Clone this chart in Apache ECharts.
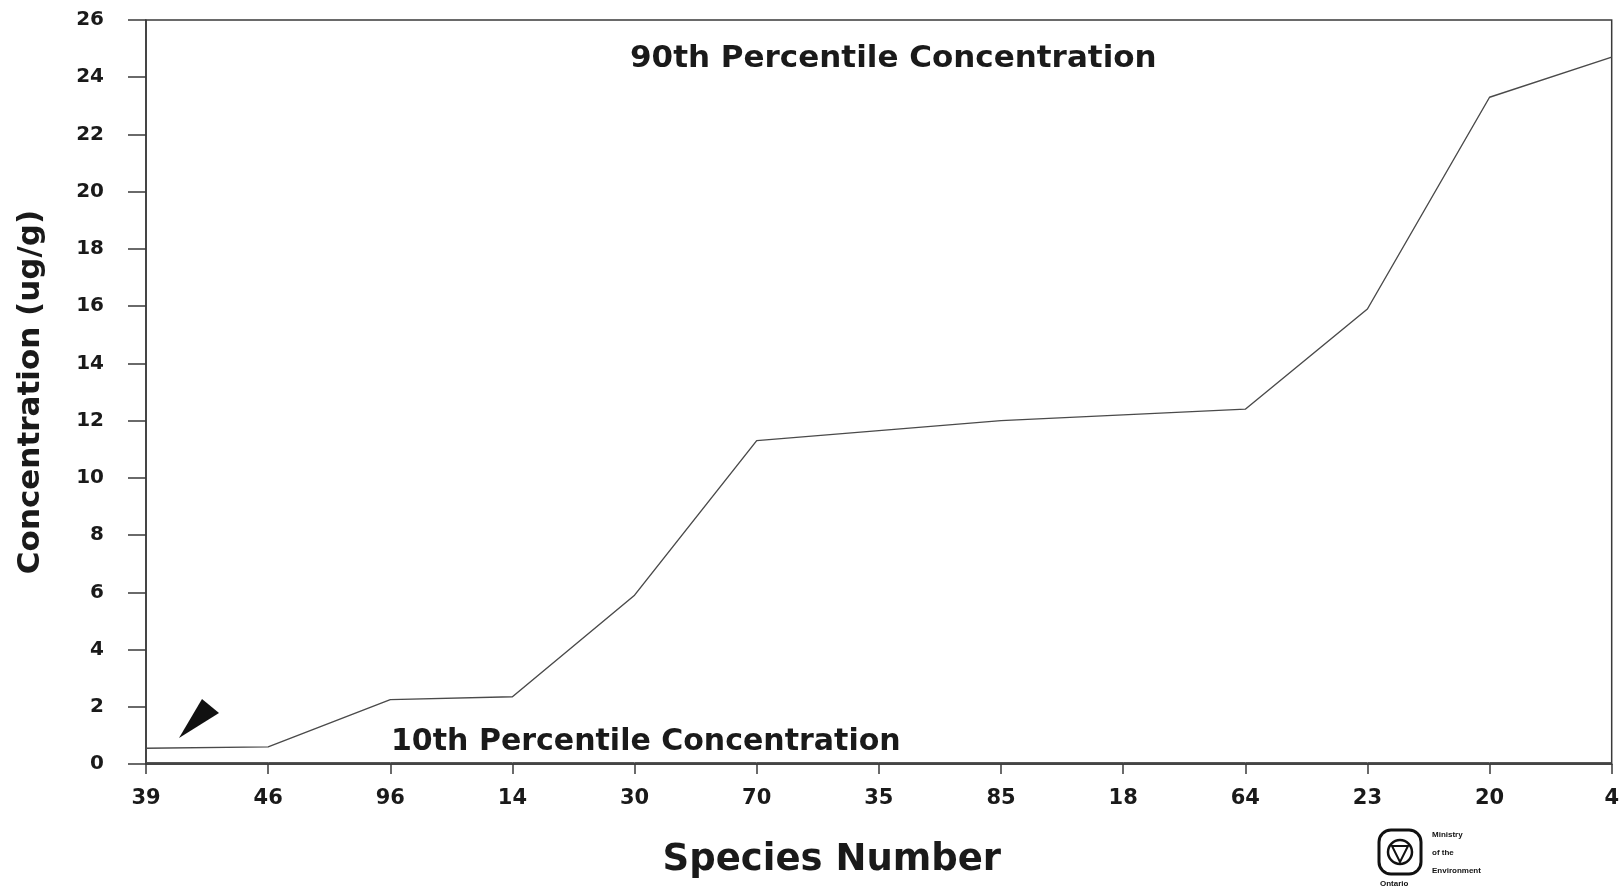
<!DOCTYPE html>
<html>
<head>
<meta charset="utf-8">
<script src="https://cdn.jsdelivr.net/npm/echarts@6/dist/echarts.min.js"></script>
<style>
html,body{margin:0;padding:0;background:#fff;}
#c{width:1622px;height:891px;}
</style>
</head>
<body>
<div id="c"></div>
<script>
const speciesNumbers = ['39','46','96','14','30','70','35','85','18','64','23','20','4'];
const p90Values = [0.55, 0.6, 2.25, 2.35, 5.9, 11.3, 11.65, 12.0, 12.2, 12.4, 15.9, 23.3, 24.7];
const p10Values = [0.05, 0.05, 0.05, 0.05, 0.05, 0.05, 0.05, 0.05, 0.05, 0.05, 0.05, 0.05, 0.05];
const yTicks = {min: 0, max: 26, interval: 2};

const FONT = '"DejaVu Sans", "Liberation Sans", Arial, sans-serif';
const SFONT = '"Liberation Sans", Arial, sans-serif';
const INK = '#1a1a1a';
const chart = echarts.init(document.getElementById('c'), null, {renderer: 'canvas'});

chart.setOption({
  backgroundColor: '#ffffff',
  animation: false,
  grid: {left: 146, right: 10, top: 20, bottom: 127, show: true, borderColor: '#3a3a3a', borderWidth: 1.5},
  xAxis: {
    type: 'category',
    data: speciesNumbers,
    boundaryGap: false,
    name: 'Species Number',
    nameLocation: 'middle',
    nameGap: 78,
    nameTextStyle: {fontFamily: FONT, fontWeight: 'bold', fontSize: 37, color: INK, padding: [0, 94, 0, 0]},
    axisLine: {lineStyle: {color: '#3a3a3a', width: 1.5}},
    axisTick: {show: true, length: 10, lineStyle: {color: '#3a3a3a', width: 1.5}, alignWithLabel: true},
    axisLabel: {fontFamily: FONT, fontWeight: 'bold', fontSize: 21, color: INK, margin: 24},
    splitLine: {show: false}
  },
  yAxis: {
    type: 'value',
    min: yTicks.min, max: yTicks.max, interval: yTicks.interval,
    name: 'Concentration (ug/g)',
    nameLocation: 'middle',
    nameGap: 100,
    nameRotate: 90,
    nameTextStyle: {fontFamily: FONT, fontWeight: 'bold', fontSize: 31, color: INK},
    axisLine: {show: true, lineStyle: {color: '#3a3a3a', width: 1.5}},
    axisTick: {show: true, length: 18, lineStyle: {color: '#3a3a3a', width: 1.5}},
    axisLabel: {fontFamily: FONT, fontWeight: 'bold', fontSize: 20, color: INK, margin: 42},
    splitLine: {show: false}
  },
  series: [
    {
      name: '90th Percentile Concentration',
      type: 'line',
      data: p90Values,
      symbol: 'none',
      lineStyle: {color: '#4a4a4a', width: 1.4},
      z: 3
    },
    {
      name: '10th Percentile Concentration',
      type: 'line',
      data: p10Values,
      symbol: 'none',
      lineStyle: {color: '#4a4a4a', width: 1},
      z: 2
    }
  ],
  graphic: [
    {type: 'text', left: 630, top: 43, style: {text: '90th Percentile Concentration', font: 'bold 31px ' + FONT, fill: INK}},
    {type: 'text', left: 391, top: 727, style: {text: '10th Percentile Concentration', font: 'bold 30px ' + FONT, fill: INK}},
    {type: 'polygon', shape: {points: [[179, 738], [202, 699], [219, 713]]}, style: {fill: '#111'}},
    {type: 'rect', shape: {x: 1379, y: 830, width: 42, height: 44, r: 12}, style: {fill: 'none', stroke: '#111', lineWidth: 3}},
    {type: 'circle', shape: {cx: 1400, cy: 852, r: 12}, style: {fill: 'none', stroke: '#111', lineWidth: 2.5}},
    {type: 'polygon', shape: {points: [[1392, 846], [1408, 846], [1400, 862]]}, style: {fill: 'none', stroke: '#111', lineWidth: 2}},
    {type: 'text', left: 1432, top: 831, style: {text: 'Ministry', font: 'bold 8px ' + SFONT, fill: '#111'}},
    {type: 'text', left: 1432, top: 849, style: {text: 'of the', font: 'bold 8px ' + SFONT, fill: '#111'}},
    {type: 'text', left: 1432, top: 867, style: {text: 'Environment', font: 'bold 8px ' + SFONT, fill: '#111'}},
    {type: 'text', left: 1380, top: 880, style: {text: 'Ontario', font: 'bold 8px ' + SFONT, fill: '#111'}}
  ]
});
</script>
</body>
</html>
